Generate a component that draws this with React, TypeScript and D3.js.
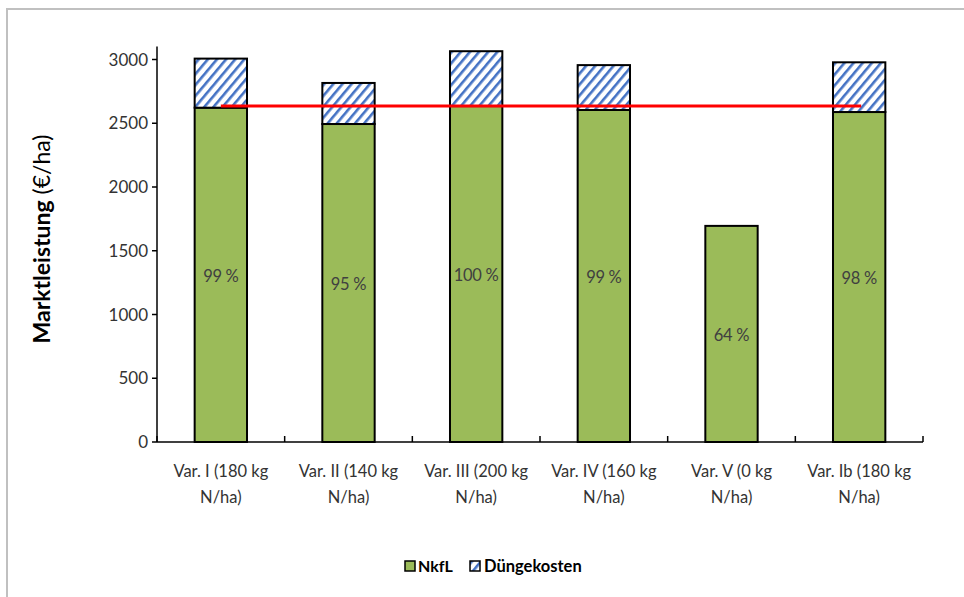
import React from "react";
import * as d3 from "d3";

const categories = [
  ["Var. I (180 kg", "N/ha)"],
  ["Var. II (140 kg", "N/ha)"],
  ["Var. III (200 kg", "N/ha)"],
  ["Var. IV (160 kg", "N/ha)"],
  ["Var. V (0 kg", "N/ha)"],
  ["Var. Ib (180 kg", "N/ha)"],
];
const nkfl = [2622, 2494, 2635, 2604, 1695, 2588];
const duenge = [385, 322, 430, 352, 0, 390];
const percentLabels = ["99 %", "95 %", "100 %", "99 %", "64 %", "98 %"];
const refLine = 2635;
const yTicks = [0, 500, 1000, 1500, 2000, 2500, 3000];

const W = 964;
const H = 597;
const plot = { left: 157, right: 923, top: 59.5, bottom: 442 };
const font = "Lato, 'Open Sans', 'Noto Sans', sans-serif";

export default function App() {
  const x = d3
    .scaleBand<number>()
    .domain(d3.range(categories.length))
    .range([plot.left, plot.right])
    .paddingInner(0.59)
    .paddingOuter(0.295);
  const step = (plot.right - plot.left) / categories.length;
  const y = d3.scaleLinear().domain([0, 3000]).range([plot.bottom, plot.top]);
  const bw = x.bandwidth();

  return (
    <svg
      width={W}
      height={H}
      style={{ position: "absolute", left: 0, top: 0, background: "#fff" }}
      fontFamily={font}
    >
      <defs>
        <pattern
          id="hatch"
          patternUnits="userSpaceOnUse"
          width={7}
          height={7}
          patternTransform="rotate(40)"
        >
          <rect width={7} height={7} fill="#fff" />
          <rect x={0} y={0} width={2.6} height={7} fill="#4472C4" />
        </pattern>
      </defs>
      <rect x={7} y={9} width={W + 10} height={H + 10} fill="#fff" stroke="#c0c0c0" strokeWidth={2} />

      {/* bars */}
      {nkfl.map((v, i) => (
        <g key={i}>
          <rect
            x={x(i)}
            y={y(v)}
            width={bw}
            height={y(0) - y(v)}
            fill="#9BBB59"
            stroke="#000"
            strokeWidth={2}
          />
          {duenge[i] > 0 && (
            <rect
              x={x(i)}
              y={y(v + duenge[i])}
              width={bw}
              height={y(v) - y(v + duenge[i])}
              fill="url(#hatch)"
              stroke="#000"
              strokeWidth={2}
            />
          )}
          <text
            x={(x(i) as number) + bw / 2}
            y={(y(0) + y(v)) / 2 + 7}
            textAnchor="middle"
            fontSize={16.5}
            fill="#404040"
            letterSpacing={-0.3}
          >
            {percentLabels[i]}
          </text>
        </g>
      ))}

      {/* red reference line */}
      <line
        x1={(x(0) as number) + bw / 2}
        x2={(x(5) as number) + bw / 2 + 2}
        y1={y(refLine)}
        y2={y(refLine)}
        stroke="#FF0000"
        strokeWidth={3}
      />

      {/* y axis */}
      <line x1={plot.left} x2={plot.left} y1={plot.top - 13} y2={plot.bottom} stroke="#000" strokeWidth={1.5} />
      {yTicks.map((t) => (
        <g key={t}>
          <line x1={plot.left - 5} x2={plot.left} y1={y(t)} y2={y(t)} stroke="#000" strokeWidth={1.5} />
          <text x={plot.left - 9} y={y(t) + 6} textAnchor="end" fontSize={17} fill="#333">
            {t}
          </text>
        </g>
      ))}

      {/* x axis */}
      <line x1={plot.left} x2={plot.right} y1={plot.bottom} y2={plot.bottom} stroke="#000" strokeWidth={1.5} />
      {d3.range(categories.length + 1).map((i) => (
        <line
          key={i}
          x1={plot.left + i * step}
          x2={plot.left + i * step}
          y1={plot.bottom}
          y2={plot.bottom - 6}
          stroke="#000"
          strokeWidth={1.5}
        />
      ))}
      {categories.map((c, i) => (
        <text key={i} textAnchor="middle" fontSize={16.5} fill="#333">
          <tspan x={(x(i) as number) + bw / 2} y={477}>
            {c[0]}
          </tspan>
          <tspan x={(x(i) as number) + bw / 2} y={503}>
            {c[1]}
          </tspan>
        </text>
      ))}

      {/* y title */}
      <text
        transform={`translate(50, 239) rotate(-90)`}
        textAnchor="middle"
        fontSize={23}
        fill="#000"
      >
        <tspan fontWeight="bold">Marktleistung</tspan>
        <tspan> (€/ha)</tspan>
      </text>

      {/* legend */}
      <rect x={405} y={561} width={10} height={10} fill="#9BBB59" stroke="#000" strokeWidth={1.5} />
      <text x={418} y={572} fontSize={16} fontWeight="bold" fill="#000">
        NkfL
      </text>
      <rect x={470} y={561} width={10} height={10} fill="url(#hatch)" stroke="#000" strokeWidth={1.5} />
      <text x={484} y={572} fontSize={16.5} fontWeight="bold" fill="#000">
        Düngekosten
      </text>
    </svg>
  );
}
